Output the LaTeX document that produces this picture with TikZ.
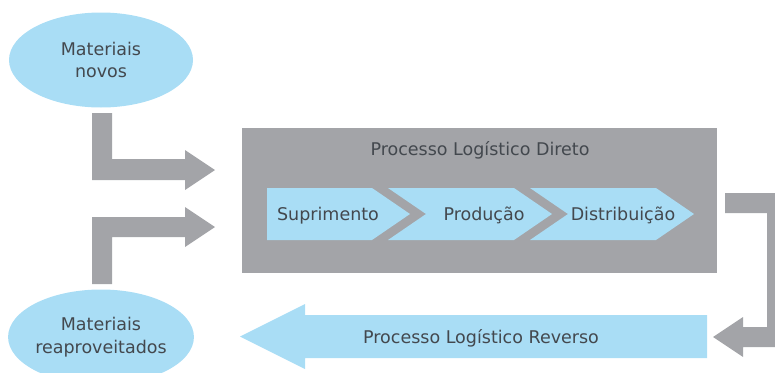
\documentclass[tikz,border=0pt]{standalone}
\usepackage{fontspec}
\setmainfont{DejaVu Sans}
\usepackage{xcolor}
\usepackage{tikz}
\usetikzlibrary{shapes.geometric,positioning}
\definecolor{azul}{HTML}{A9DDF5}
\definecolor{cinza}{HTML}{A3A4A8}
\definecolor{texto}{HTML}{43484E}

\begin{document}
\begin{tikzpicture}[x=1pt,y=-1pt,
  bloco/.style={fill=azul},
  seta/.style={fill=cinza},
  rotulo/.style={text=texto,font=\fontsize{17.5}{22.5}\selectfont,align=center,inner sep=0pt},
  elipse/.style={ellipse,fill=azul,minimum width=184pt,minimum height=95pt,rotulo}]
\useasboundingbox (0,0) rectangle (775,372);
\clip (0,0) rectangle (775,372);

% materiais
\node[elipse] (novos) at (101,60) {Materiais\\novos};
\node[elipse] (reaprov) at (101,337) {Materiais\\reaproveitados};

% setas de entrada
\fill[seta] (92,113) -- (112,113) -- (112,159) -- (185,159) -- (185,150) -- (215,170)
  -- (185,190) -- (185,180) -- (92,180) -- cycle;
\fill[seta] (92,284) -- (92,217) -- (185,217) -- (185,207) -- (215,227)
  -- (185,247) -- (185,237) -- (112,237) -- (112,284) -- cycle;

% processo direto
\node[fill=cinza,minimum width=475pt,minimum height=145pt,inner sep=0pt] (direto) at (479.5,200.5) {};
\node[rotulo,anchor=base] (titulo) at (480,155) {Processo Logístico Direto};

\fill[bloco] (267,188) -- (372,188) -- (410,214) -- (372,240) -- (267,240) -- cycle;
\foreach \x in {388,530}
  \fill[bloco] (\x,188) -- ++(126,0) -- ++(38,26) -- ++(-38,26) -- ++(-126,0) -- ++(38,-26) -- cycle;
\node[rotulo,anchor=base] (supr) at (328,220) {Suprimento};
\node[rotulo,anchor=base] (prod) at (484,220) {Produção};
\node[rotulo,anchor=base] (dist) at (623,220) {Distribuição};

% retorno
\fill[seta] (725,193) -- (787,193) -- (787,347) -- (743,347) -- (743,357) -- (713,337)
  -- (743,317) -- (743,327) -- (767,327) -- (767,213) -- (725,213) -- cycle;

% processo reverso
\fill[bloco] (707,315) -- (305,315) -- (305,304) -- (240,336.5) -- (305,369) -- (305,358) -- (707,358) -- cycle;
\node[rotulo,anchor=base] (reverso) at (481,343) {Processo Logístico Reverso};
\end{tikzpicture}
\end{document}
